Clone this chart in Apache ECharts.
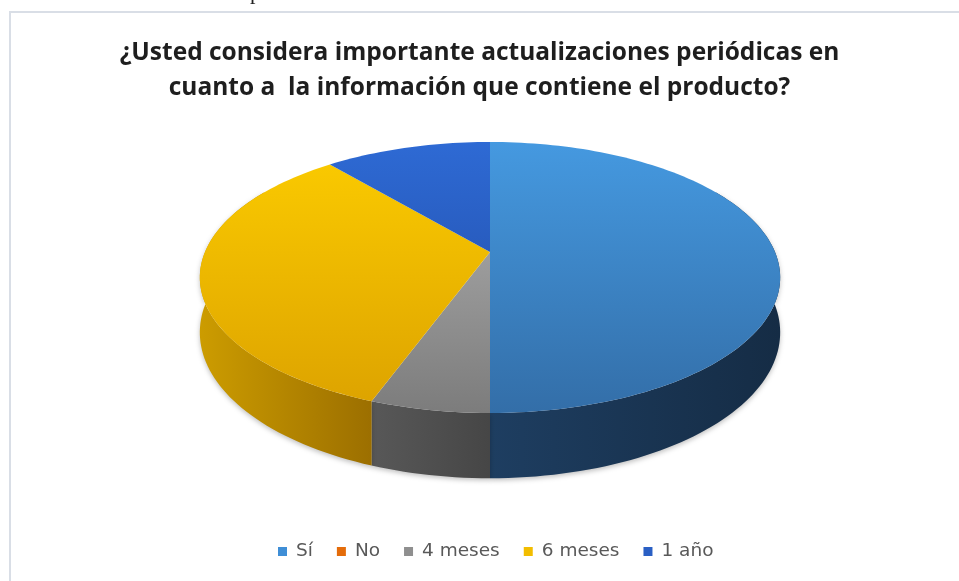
<!DOCTYPE html>
<html>
<head>
<meta charset="utf-8">
<script src="https://cdn.jsdelivr.net/npm/echarts@6/dist/echarts.min.js"></script>
<style>
  html, body { margin: 0; padding: 0; background: #fff; }
  #chart { width: 959px; height: 581px; }
</style>
</head>
<body>
<div id="chart"></div>
<script>
// datos de la encuesta
const categories = ['Sí', 'No', '4 meses', '6 meses', '1 año'];
const values = [9, 0, 1, 6, 2];

// colores (leyenda, cara superior, lateral)
const colors = ['#3f8ed6', '#e46c0a', '#8f8f8f', '#f2bd00', '#2a5fc4'];
const topLight = ['#4599e0', '#e46c0a', '#b4b4b4', '#fccc00', '#2e6ad4'];
const topDark = ['#336ea8', '#e46c0a', '#7c7c7c', '#dca200', '#1f47a0'];
const sideLight = ['#1e3e61', '#c05a08', '#585858', '#cc9c00', '#1c3f86'];
const sideDark = ['#152c45', '#a04a06', '#464646', '#9c6f00', '#163270'];

// geometria del pastel 3D (perspectiva simple)
const CX = 490, CY = 252;
const RX = 285, RY = 130.7, K = 0.188, DEPTH = 53;
const TOP_Y0 = 142, TOP_Y1 = 413;

const total = values.reduce((a, b) => a + b, 0);
const angles = [];
let acc = 0;
values.forEach(v => {
  const a0 = acc / total * 360;
  acc += v;
  angles.push([a0, acc / total * 360]);
});

function proj(deg, h) {
  const r = deg * Math.PI / 180;
  const X = Math.sin(r), Y = Math.cos(r);
  const t = 1 + K * Y;
  return [CX + RX * X / t, CY - RY * Y / t + h * DEPTH / t];
}

function arc(a0, a1, h) {
  const pts = [];
  const n = Math.max(2, Math.ceil((a1 - a0) / 1.5));
  for (let j = 0; j <= n; j++) {
    pts.push(proj(a0 + (a1 - a0) * j / n, h));
  }
  return pts;
}

function renderSlice(i) {
  return function (params, api) {
    const a0 = angles[i][0], a1 = angles[i][1];
    if (a1 - a0 <= 0) return null;
    const children = [];
    // lateral visible (parte frontal)
    const w0 = Math.max(a0, 60), w1 = Math.min(a1, 300);
    if (w1 > w0) {
      const upper = arc(w0, w1, 0);
      const lower = arc(w0, w1, 1).reverse();
      children.push({
        type: 'polygon',
        z2: 1,
        shape: { points: upper.concat(lower) },
        style: {
          fill: new echarts.graphic.LinearGradient(0, 0, 1, 0, [
            { offset: 0, color: sideLight[i] },
            { offset: 1, color: sideDark[i] }
          ]),
          shadowBlur: 5,
          shadowColor: 'rgba(0,0,0,0.25)',
          shadowOffsetY: 2
        }
      });
    }
    // cara superior
    children.push({
      type: 'polygon',
      z2: 10,
      shape: { points: [[CX, CY]].concat(arc(a0, a1, 0)) },
      style: {
        fill: new echarts.graphic.LinearGradient(0, TOP_Y0, 0, TOP_Y1, [
          { offset: 0, color: topLight[i] },
          { offset: 1, color: topDark[i] }
        ], true)
      }
    });
    return { type: 'group', children: children };
  };
}

const chart = echarts.init(document.getElementById('chart'));

chart.setOption({
  backgroundColor: '#fff',
  animation: false,
  title: {
    text: '¿Usted considera importante actualizaciones periódicas en\ncuanto a  la información que contiene el producto?',
    left: 'center',
    top: 31,
    textStyle: {
      fontFamily: 'Open Sans',
      fontWeight: 'bold',
      fontSize: 24.5,
      lineHeight: 35,
      color: '#1e1e1e'
    }
  },
  legend: {
    data: categories,
    left: 273,
    top: 537,
    icon: 'rect',
    itemWidth: 9,
    itemHeight: 9,
    itemGap: 24,
    textStyle: {
      fontFamily: 'DejaVu Sans',
      fontSize: 18.5,
      color: '#595959',
      padding: [0, 0, 0, 4]
    }
  },
  graphic: [
    {
      type: 'rect',
      silent: true,
      shape: { x: 10, y: 12, width: 960, height: 580 },
      style: { fill: 'none', stroke: '#d9dee6', lineWidth: 2 }
    },
    {
      type: 'text',
      silent: true,
      left: 16,
      top: -18,
      style: {
        text: 'Gráfico 10: Actualización periódica',
        font: '22px "Liberation Serif"',
        fill: '#222'
      }
    }
  ],
  series: categories.map((name, i) => ({
    type: 'custom',
    name: name,
    coordinateSystem: 'none',
    itemStyle: { color: colors[i] },
    data: [values[i]],
    renderItem: renderSlice(i)
  }))
});
</script>
</body>
</html>
